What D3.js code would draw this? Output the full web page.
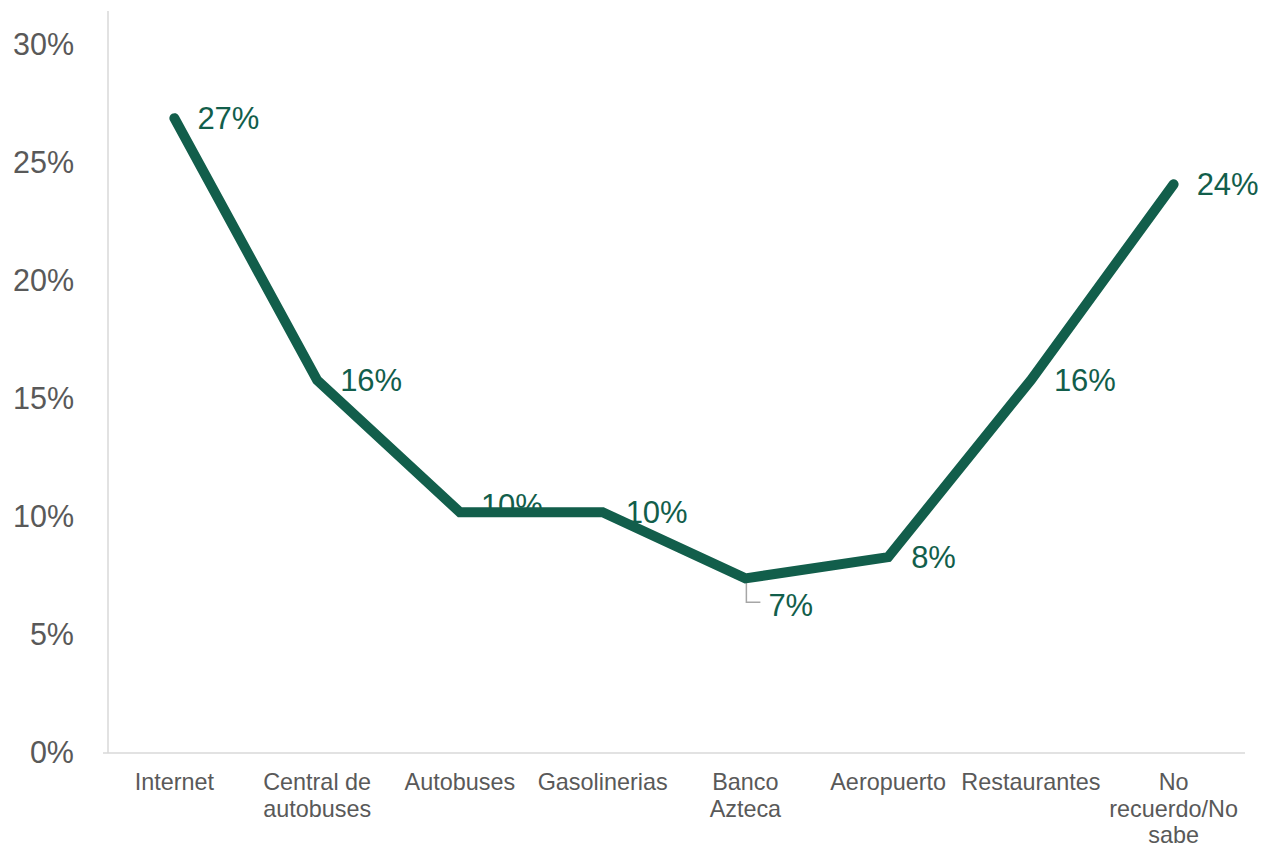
<!DOCTYPE html>
<html>
<head>
<meta charset="utf-8">
<script src="https://cdn.jsdelivr.net/npm/d3@7"></script>
<style>
  html, body { margin: 0; padding: 0; background: #ffffff; }
  svg { display: block; font-family: "Liberation Sans", Arial, sans-serif; }
</style>
</head>
<body>
<svg id="chart" width="1263" height="847"></svg>
<script>
// Categories (each label split into its display lines)
const categories = [
  ["Internet"],
  ["Central de", "autobuses"],
  ["Autobuses"],
  ["Gasolinerias"],
  ["Banco", "Azteca"],
  ["Aeropuerto"],
  ["Restaurantes"],
  ["No", "recuerdo/No", "sabe"]
];
// Share of respondents per category
const values = [0.269, 0.158, 0.102, 0.102, 0.074, 0.083, 0.158, 0.241];
// Y axis ticks
const yTicks = [0, 0.05, 0.10, 0.15, 0.20, 0.25, 0.30];
const yMax = 0.3144;

const svg = d3.select("#chart");
const plotLeft = 103, plotRight = 1245, plotTop = 11, plotBottom = 753;
const green = "#125E4B";
const grey = "#595959";
const axisColor = "#d9d9d9";

const x = d3.scaleBand()
  .domain(d3.range(categories.length))
  .range([plotLeft, plotRight]);
const y = d3.scaleLinear().domain([0, yMax]).range([plotBottom, plotTop]);
const cx = i => x(i) + x.bandwidth() / 2;

// Y axis tick labels
const yAxis = svg.append("g")
  .attr("transform", `translate(108,0)`)
  .call(d3.axisLeft(y).tickValues(yTicks).tickSize(0).tickPadding(34).tickFormat(d3.format(".0%")));
yAxis.select(".domain").remove();
yAxis.selectAll("text")
  .attr("fill", grey)
  .style("font-size", "30.5px")
  .style("font-family", "'Liberation Sans', Arial, sans-serif");

// Axis lines
svg.append("line")
  .attr("x1", 108).attr("x2", 108).attr("y1", plotTop).attr("y2", plotBottom)
  .attr("stroke", axisColor).attr("stroke-width", 1.5);
svg.append("line")
  .attr("x1", plotLeft).attr("x2", plotRight).attr("y1", plotBottom).attr("y2", plotBottom)
  .attr("stroke", axisColor).attr("stroke-width", 1.5);

// X axis category labels (multi-line)
const xAxis = svg.append("g")
  .attr("transform", `translate(0,${plotBottom})`)
  .call(d3.axisBottom(x).tickSize(0).tickFormat(""));
xAxis.select(".domain").remove();
xAxis.selectAll(".tick").each(function(i) {
  const t = d3.select(this).append("text")
    .attr("fill", grey)
    .attr("text-anchor", "middle")
    .style("font-size", "23.4px")
    .style("font-family", "'Liberation Sans', Arial, sans-serif");
  categories[i].forEach((line, k) => {
    t.append("tspan").attr("x", 0).attr("y", 37 + k * 26.5).text(line);
  });
});

// Data labels sit to the right of each point; a few are nudged
const labelShift = { 2: [21, -7], 4: [23, 26] };
const fmt = d3.format(".0%");
const labels = svg.append("g");
values.forEach((v, i) => {
  const [dx, dy] = labelShift[i] || [23, 0];
  labels.append("text")
    .attr("x", cx(i) + dx)
    .attr("y", y(v) + dy)
    .attr("dy", "0.36em")
    .attr("fill", green)
    .style("font-size", "31px")
    .text(fmt(v));
});

// Leader line for the label placed below its point
svg.append("path")
  .attr("d", `M${cx(4) + 1},${y(values[4]) + 2} V${y(values[4]) + 24} H${cx(4) + 15}`)
  .attr("fill", "none")
  .attr("stroke", "#a6a6a6")
  .attr("stroke-width", 1.5);

// Series line
svg.append("path")
  .datum(values)
  .attr("d", d3.line().x((d, i) => cx(i)).y(d => y(d)))
  .attr("fill", "none")
  .attr("stroke", green)
  .attr("stroke-width", 10)
  .attr("stroke-linecap", "round")
  .attr("stroke-linejoin", "miter");
</script>
</body>
</html>
